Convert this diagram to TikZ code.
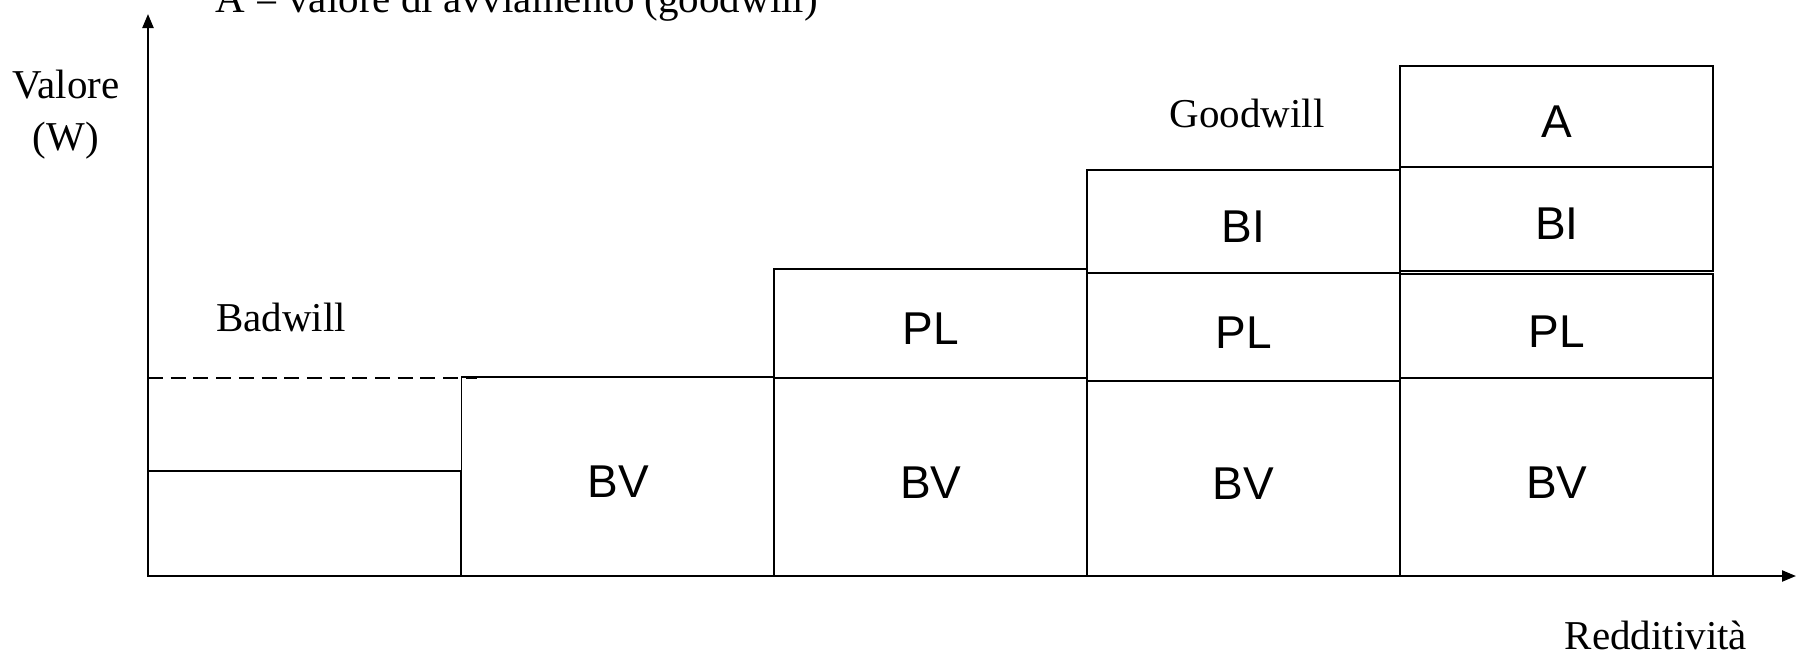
\documentclass[tikz,border=0pt]{standalone}
\usepackage{fontspec}
\setmainfont{Liberation Serif}
\newfontfamily\labelfont{Liberation Sans}
\usetikzlibrary{arrows.meta}
\begin{document}
\begin{tikzpicture}[x=1pt,y=-1pt,
  serif/.style={font=\fontsize{41}{52}\selectfont, inner sep=0pt},
  bar/.style={draw, line width=1.8pt, inner sep=0pt, minimum width=313pt,
    text height=42pt, text depth=0pt,
    font=\labelfont\fontsize{46}{50}\selectfont},
  axis/.style={line width=2.2pt, -{Triangle[length=14pt,width=11pt]}},
  level/.style={line width=2.4pt, dash pattern=on 15pt off 7.7pt}]
\useasboundingbox (0,0) rectangle (1796,656);

% axes
\coordinate (O) at (148,576);
\coordinate (Xend) at (1796,576);
\coordinate (Yend) at (148,14);
\draw[axis] (O) -- (Xend);
\draw[axis] (O) -- (Yend);

% first column: low value with the badwill level above it
\node[bar, minimum height=105pt] (low) at (304.8,523.5) {};
\coordinate (lvA) at (148,378);
\coordinate (lvB) at (477,378);
\draw[level] (lvA) -- (lvB);

% second column
\node[bar, minimum height=199pt] (bv2) at (618,476.5) {BV};

% third column
\node[bar, minimum height=198pt] (bv3) at (930.7,477) {BV};
\node[bar, minimum height=109pt] (pl3) at (930.7,323.5) {PL};

% fourth column
\node[bar, minimum height=195pt] (bv4) at (1243.5,478.5) {BV};
\node[bar, minimum height=108pt] (pl4) at (1243.5,327) {PL};
\node[bar, minimum height=103pt] (bi4) at (1243.5,221.5) {BI};

% fifth column
\node[bar, minimum height=198pt] (bv5) at (1556.8,477) {BV};
\node[bar, minimum height=104pt] (pl5) at (1556.8,326) {PL};
\node[bar, minimum height=104pt] (bi5) at (1556.8,218.7) {BI};
\node[bar, minimum height=100.7pt] (a5) at (1556.8,116.3) {A};

% texts
\node[serif, anchor=base west] (legend) at (215,12) {A = valore di avviamento (goodwill)};
\node[serif, anchor=base] (yl1) at (66,98) {Valore};
\node[serif, anchor=base] (yl2) at (66,150) {(W)};
\node[serif, anchor=base] (bad) at (281,331) {Badwill};
\node[serif, anchor=base] (good) at (1247,127) {Goodwill};
\node[serif, anchor=base] (xl) at (1656,649) {Redditività};
\end{tikzpicture}
\end{document}
